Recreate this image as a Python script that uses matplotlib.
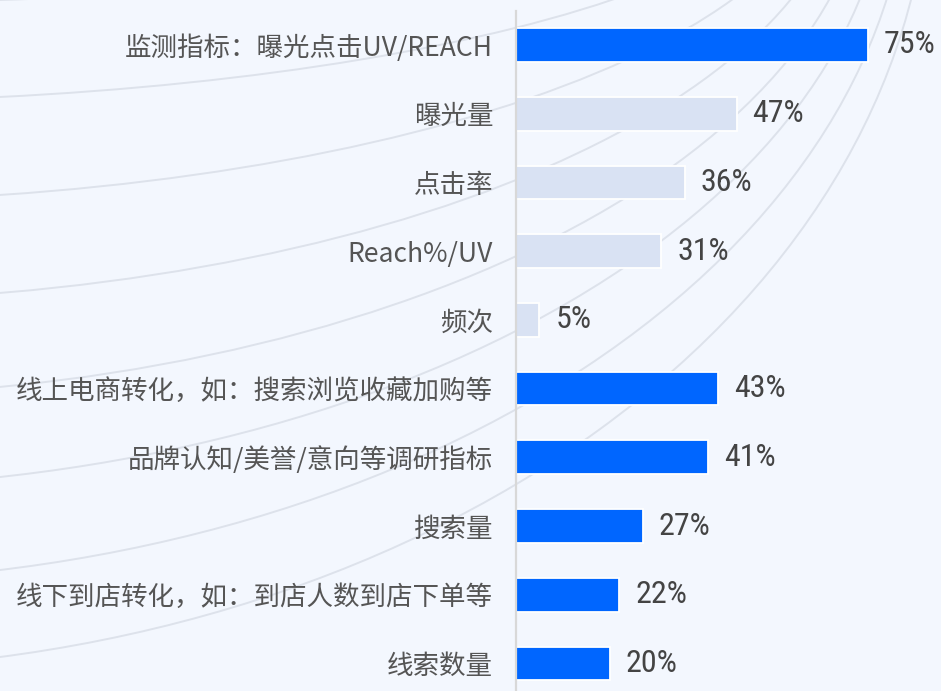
import matplotlib
matplotlib.use("Agg")
import matplotlib.pyplot as plt
import numpy as np
from matplotlib import font_manager
from matplotlib.patches import Ellipse

plt.rcParams['font.family'] = ['Noto Sans CJK SC', 'DejaVu Sans']

LABELS = [
    "监测指标：曝光点击UV/REACH",
    "曝光量",
    "点击率",
    "Reach%/UV",
    "频次",
    "线上电商转化，如：搜索浏览收藏加购等",
    "品牌认知/美誉/意向等调研指标",
    "搜索量",
    "线下到店转化，如：到店人数到店下单等",
    "线索数量",
]
VALUES = [75, 47, 36, 31, 5, 43, 41, 27, 22, 20]
HIGHLIGHT = [True, False, False, False, False, True, True, True, True, True]

BG = "#f3f7fe"
BLUE = "#0066ff"
LIGHT = "#d9e2f3"

# decorative background rings (pixel coords): where each crosses the left edge
ARC_Y0 = [0, 97, 195, 293, 387, 477, 570, 657]
RING_CX, RING_CY = -200.0, -150.0

# narrow font for the percentages, first one that is installed
names = {f.name for f in font_manager.fontManager.ttflist}
num_font = "Roboto"
for cand in ["Liberation Sans Narrow", "Roboto Condensed", "Archivo Narrow",
             "PT Sans Narrow", "Open Sans Condensed"]:
    if cand in names:
        num_font = cand
        break

fig = plt.figure(figsize=(9.41, 6.91), dpi=100)
fig.patch.set_facecolor(BG)

bg = fig.add_axes([0, 0, 1, 1])
bg.set_xlim(0, 941)
bg.set_ylim(691, 0)
bg.axis("off")
for i, y0 in enumerate(ARC_Y0):
    a = 1130 - 20 * (len(ARC_Y0) - 1 - i)
    b = (y0 - RING_CY) / np.sqrt(1 - (RING_CX / a) ** 2)
    bg.add_patch(Ellipse((RING_CX, RING_CY), 2 * a, 2 * b, fill=False,
                         ec="#dde2eb", lw=1.4))

ax = fig.add_axes([516 / 941, 0, 425 / 941, 680.4 / 691])
ax.set_facecolor("none")
y = np.arange(len(LABELS))
colors = [BLUE if h else LIGHT for h in HIGHLIGHT]
ax.barh(y, VALUES, height=0.49, color=colors, edgecolor="white", linewidth=1.3)

for yi, v in zip(y, VALUES):
    ax.text(v + 3.4, yi, f"{v}%", va="center", ha="left", fontsize=23,
            color="#444444", family=[num_font, "DejaVu Sans"])

ax.set_xlim(0, 90.56)
ax.set_ylim(9.40, -0.5)
ax.set_yticks(y)
ax.set_yticklabels(LABELS, fontsize=19.1, color="#555555")
ax.tick_params(axis="y", length=0, pad=16.5)
ax.set_xticks([])
for s in ["top", "right", "bottom"]:
    ax.spines[s].set_visible(False)
ax.spines["left"].set_color("#d8d8d8")
ax.spines["left"].set_linewidth(1.6)

fig.savefig("out.png", dpi=100, facecolor=BG)
